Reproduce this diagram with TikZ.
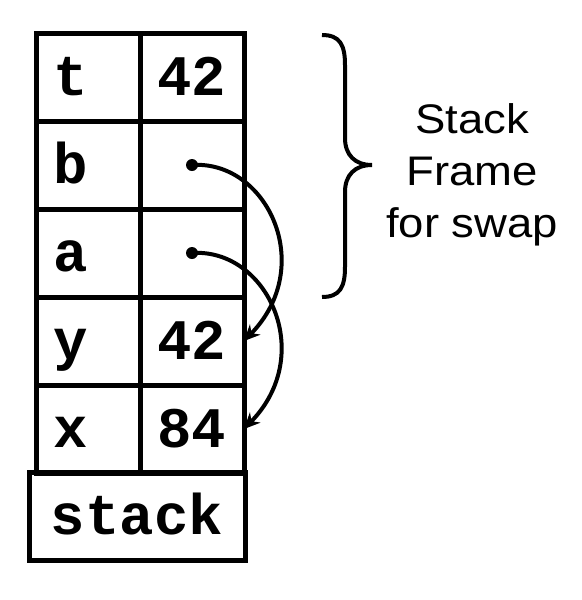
\documentclass[tikz,border=0pt]{standalone}
\usepackage{fontspec}
\setmainfont{Liberation Sans}
\newfontfamily\cellfont{Liberation Mono}
\usetikzlibrary{arrows.meta}

\tikzset{
 cell/.style={draw,line width=3.75pt,minimum width=78pt,minimum height=66pt,
  inner sep=0pt,outer sep=0pt,text height=28pt,text depth=0pt,
  font=\cellfont\bfseries\fontsize{43}{43}\selectfont},
 namecell/.style={cell,text width=52.5pt,align=left,inner xsep=12.75pt},
 ptr/.style={line width=3pt,-{Stealth[length=12pt,width=11pt]}},
}

\begin{document}
\begin{tikzpicture}[x=0.75pt,y=-0.75pt]
\useasboundingbox (0,0) rectangle (582,600);
% the frame, one row per variable
\foreach \i/\n/\v in {0/t/42,1/b/,2/a/,3/y/42,4/x/84}{
 \node[namecell] (n\n) at (88,77+88*\i) {\n};
 \node[cell] (v\n) at (192,77+88*\i) {\v};
}
\node[cell,minimum width=162pt] (stk) at (137,516) {stack};
% pointers
\fill (vb.center) circle[radius=4.5pt];
\fill (va.center) circle[radius=4.5pt];
\draw[ptr] (vb.center) .. controls +(75,-5) and +(73,-75) .. (vy.east);
\draw[ptr] (va.center) .. controls +(75,-5) and +(73,-75) .. (vx.east);
% brace
\draw[line width=3pt] (322,35) .. controls (340,35) and (345,45) .. (345,65)
 -- (345,138) .. controls (345,155) and (355,165) .. (372,165)
 .. controls (355,165) and (345,175) .. (345,192)
 -- (345,267) .. controls (345,287) and (340,297) .. (322,297);
\node[align=center,xscale=1.1,transform shape,
 font=\fontsize{31}{39}\selectfont] (frm) at (472,174.5)
 {Stack\\Frame\\for swap};
\end{tikzpicture}
\end{document}
